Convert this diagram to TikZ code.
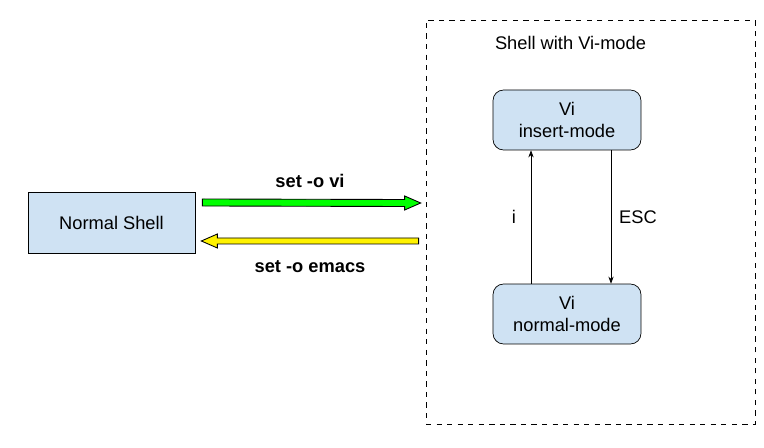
\documentclass[tikz,border=0pt]{standalone}
\usepackage{fontspec}
\setmainfont{Liberation Sans}
\usepackage{xcolor}
\usetikzlibrary{positioning, calc, arrows.meta}

\definecolor{boxblue}{HTML}{CFE2F3}

\begin{document}
\begin{tikzpicture}[
    x=0.02cm, y=-0.02cm,
    font=\fontsize{10.4}{12.5}\selectfont,
    box/.style={rectangle, draw, fill=boxblue, minimum width=3.34cm, minimum height=1.22cm, align=center},
    modebox/.style={rectangle, rounded corners=6pt, draw, fill=boxblue, minimum width=2.96cm, minimum height=1.2cm, align=center, text depth=0pt},
    fatarrow/.style={draw, line width=0.5pt},
]
\useasboundingbox (0,0) rectangle (764,448);

% Normal shell
\node (normal) [box] at (111.5,222.5) {Normal Shell};

% Vi-mode frame
\node (frame) [draw, dashed, minimum width=6.58cm, minimum height=8.08cm, inner sep=0pt] at (590.5,222) {};
\node (title) at (570.5,43) {Shell with Vi-mode};

% Vi modes
\node (insert) [modebox] at (567,120) {Vi\\insert-mode};
\node (nmode) [modebox] at (567,314) {Vi\\normal-mode};

% Mode arrows
\draw [-{Stealth[length=4pt,width=3pt]}, line width=0.4pt] ($(nmode.north)+(-36,0)$) -- node[xshift=-0.34cm] {i} ($(insert.south)+(-36,0)$);
\draw [-{Stealth[length=4pt,width=3pt]}, line width=0.4pt] ($(insert.south)+(44,0)$) -- node[xshift=0.54cm] {ESC} ($(nmode.north)+(44,0)$);

% Fat arrows
\coordinate (vistart) at ($(normal.east)+(7,-20)$);
\coordinate (viend) at ($(frame.west)+(-5,-19)$);
\coordinate (emstart) at ($(frame.west)+(-7,19)$);
\coordinate (emend) at ($(normal.east)+(6,18.5)$);

\draw [fatarrow, fill=green] ($(vistart)+(0,-3.5)$) -- ($(viend)+(-16,-3.5)$) -- ($(viend)+(-16,-7)$) -- (viend)
    -- ($(viend)+(-16,7)$) -- ($(viend)+(-16,3.5)$) -- ($(vistart)+(0,3.5)$) -- cycle;
\draw [fatarrow, fill=yellow] ($(emstart)+(0,-3)$) -- ($(emend)+(16,-3)$) -- ($(emend)+(16,-7)$) -- (emend)
    -- ($(emend)+(16,7)$) -- ($(emend)+(16,3)$) -- ($(emstart)+(0,3)$) -- cycle;

% Labels
\node (vilabel) at (310,181) {\bfseries set -o vi};
\node (emlabel) at (310,267) {\bfseries set -o emacs};

\end{tikzpicture}
\end{document}
